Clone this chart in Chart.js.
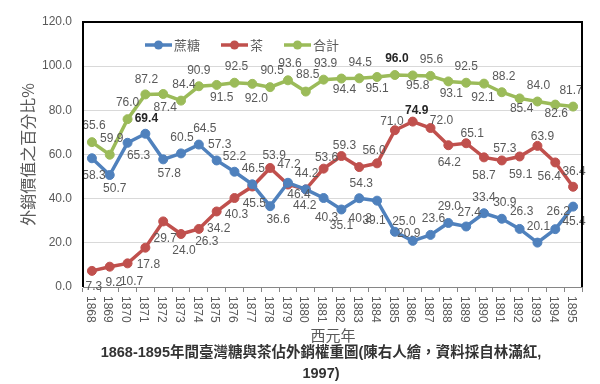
<!DOCTYPE html>
<html>
<head>
<meta charset="utf-8">
<script src="https://cdn.jsdelivr.net/npm/chart.js@4.4.1/dist/chart.umd.min.js"></script>
<style>
  html, body { margin: 0; padding: 0; background: #ffffff; }
  #chart { display: block; }
</style>
</head>
<body>
<canvas id="chart" width="600" height="384"></canvas>
<script>
// ===== Data =====
const years = [
  '1868', '1869', '1870', '1871', '1872', '1873', '1874', '1875', '1876', '1877',
  '1878', '1879', '1880', '1881', '1882', '1883', '1884', '1885', '1886', '1887',
  '1888', '1889', '1890', '1891', '1892', '1893', '1894', '1895',
];
const sugarShare = [
  58.3, 50.7, 65.3, 69.4, 57.8, 60.5, 64.5, 57.3, 52.2, 46.5,
  36.6, 47.2, 44.2, 40.3, 35.1, 40.2, 39.1, 25.0, 20.9, 23.6,
  29.0, 27.4, 33.4, 30.9, 26.3, 20.1, 26.2, 36.4,
];
const teaShare = [
  7.3, 9.2, 10.7, 17.8, 29.7, 24.0, 26.3, 34.2, 40.3, 45.5,
  53.9, 46.4, 44.2, 53.6, 59.3, 54.3, 56.0, 71.0, 74.9, 72.0,
  64.2, 65.1, 58.7, 57.3, 59.1, 63.9, 56.4, 45.4,
];
const totalShare = [
  65.6, 59.9, 76.0, 87.2, 87.4, 84.4, 90.9, 91.5, 92.5, 92.0,
  90.5, 93.6, 88.5, 93.9, 94.4, 94.5, 95.1, 96.0, 95.8, 95.6,
  93.1, 92.5, 92.1, 88.2, 85.4, 84.0, 82.6, 81.7,
];
const yTickValues = [0, 20, 40, 60, 80, 100, 120];

const seriesNames = ['蔗糖', '茶', '合計'];
const yAxisTitle = '外銷價值之百分比%';
const xAxisTitle = '西元年';
const captionLines = ['1868-1895年間臺灣糖與茶佔外銷權重圖(陳右人繪，資料採自林滿紅,', '1997)'];

// ===== Label placement (pixel offsets from each point) =====
const sugarLabelOffsets = [
  [2, 17], [5, 14], [11, 13], [1, -15], [6, 14], [1, -16], [6, -16], [3, -16], [0, -15], [1, -16],
  [8, 14], [1, -18], [-1, 16], [3, 20], [0, 16], [1, 20], [-3, 20], [9, -10], [-4, -7], [3, -16],
  [1, -16], [3, -14], [0, -16], [3, -16], [2, -17], [1, -16], [3, -17], [1, -35],
];
const teaLabelOffsets = [
  [2, 16], [4, 16], [4, 18], [3, 17], [2, 17], [3, 17], [8, 13], [2, 17], [2, 17], [2, 17],
  [4, -12], [11, 10], [1, -16], [3, -11], [3, -10], [2, 17], [-3, -13], [-3, -9], [4, -11], [11, -7],
  [1, 17], [6, -10], [0, 18], [3, -12], [1, 18], [5, -9], [-6, 14], [1, 35],
];
const totalLabelOffsets = [
  [2, -16], [2, -16], [0, -16], [1, -15], [2, 14], [3, -16], [0, -16], [5, 13], [2, -16], [4, 15],
  [2, -16], [2, -17], [2, -17], [2, -16], [3, 11], [1, -16], [0, 12], [2, -16], [5, 10], [1, -16],
  [3, 12], [0, -16], [-1, 14], [2, -16], [2, 10], [1, -16], [1, 9], [-2, -16],
];

const LATIN_FONT = '"Liberation Sans", Arial, "Noto Sans CJK TC", sans-serif';
const CJK_FONT = '"Noto Sans CJK TC", "Noto Sans", sans-serif';
const TEXT_GREY = '#595959';

// ===== Plugins =====
const pointLabelsPlugin = {
  id: 'pointLabels',
  afterDatasetsDraw(chart) {
    const { ctx } = chart;
    ctx.save();
    ctx.textAlign = 'center';
    ctx.textBaseline = 'middle';
    chart.data.datasets.forEach((dataset, datasetIndex) => {
      const meta = chart.getDatasetMeta(datasetIndex);
      const maxValue = Math.max(...dataset.data);
      meta.data.forEach((point, index) => {
        const value = dataset.data[index];
        const [dx, dy] = dataset.labelOffsets[index];
        const isMax = value === maxValue;
        ctx.font = (isMax ? 'bold ' : '') + '12px ' + LATIN_FONT;
        ctx.fillStyle = isMax ? '#262626' : TEXT_GREY;
        ctx.fillText(value.toFixed(1), point.x + dx, point.y + dy);
      });
    });
    ctx.restore();
  },
};

const frameAndTextPlugin = {
  id: 'frameAndText',
  afterDraw(chart) {
    const { ctx, chartArea } = chart;
    const xScale = chart.scales.x;

    // plot frame (top, left, right)
    ctx.save();
    ctx.strokeStyle = '#000000';
    ctx.lineWidth = 2;
    ctx.beginPath();
    ctx.moveTo(chartArea.left, chartArea.bottom);
    ctx.lineTo(chartArea.left, chartArea.top);
    ctx.lineTo(chartArea.right, chartArea.top);
    ctx.lineTo(chartArea.right, chartArea.bottom);
    ctx.stroke();
    ctx.restore();

    // x tick labels, rotated clockwise
    ctx.save();
    ctx.fillStyle = TEXT_GREY;
    ctx.font = '12px ' + LATIN_FONT;
    ctx.textAlign = 'left';
    ctx.textBaseline = 'middle';
    years.forEach((year, index) => {
      const x = xScale.getPixelForValue(index);
      ctx.save();
      ctx.translate(x - 2, chartArea.bottom + 9);
      ctx.rotate(Math.PI / 2);
      ctx.fillText(year, 0, 0);
      ctx.restore();
    });
    ctx.restore();

    // axis titles
    ctx.save();
    ctx.fillStyle = TEXT_GREY;
    ctx.textAlign = 'center';
    ctx.textBaseline = 'middle';
    ctx.font = '15px ' + CJK_FONT;
    ctx.fillText(xAxisTitle, 333, 335);
    ctx.translate(28, (chartArea.top + chartArea.bottom) / 2);
    ctx.rotate(-Math.PI / 2);
    ctx.font = '16px ' + CJK_FONT;
    ctx.fillText(yAxisTitle, 0, 0);
    ctx.restore();

    // legend inside the plot
    ctx.save();
    ctx.font = '13px ' + CJK_FONT;
    ctx.textBaseline = 'middle';
    ctx.textAlign = 'left';
    let legendX = 145;
    const legendY = 45;
    chart.data.datasets.forEach((dataset) => {
      ctx.strokeStyle = dataset.borderColor;
      ctx.fillStyle = dataset.borderColor;
      ctx.lineWidth = 3.5;
      ctx.beginPath();
      ctx.moveTo(legendX, legendY);
      ctx.lineTo(legendX + 27, legendY);
      ctx.stroke();
      ctx.beginPath();
      ctx.arc(legendX + 13.5, legendY, 4.5, 0, Math.PI * 2);
      ctx.fill();
      ctx.fillStyle = TEXT_GREY;
      ctx.fillText(dataset.label, legendX + 29, legendY);
      legendX += 29 + ctx.measureText(dataset.label).width + 21;
    });
    ctx.restore();

    // caption below the chart
    ctx.save();
    ctx.fillStyle = '#333333';
    ctx.font = 'bold 14.5px ' + LATIN_FONT.replace('"Noto Sans CJK TC", ', '"Noto Sans CJK TC", ');
    ctx.textAlign = 'center';
    ctx.textBaseline = 'middle';
    captionLines.forEach((line, index) => {
      ctx.fillText(line, 321, 353 + index * 21);
    });
    ctx.restore();
  },
};

// ===== Chart =====
function buildDataset(label, values, color, offsets) {
  return {
    label,
    data: values,
    borderColor: color,
    backgroundColor: color,
    borderWidth: 3.5,
    pointRadius: 4.5,
    pointBackgroundColor: color,
    pointBorderColor: color,
    pointBorderWidth: 1,
    tension: 0,
    labelOffsets: offsets,
  };
}

new Chart(document.getElementById('chart'), {
  type: 'line',
  data: {
    labels: years,
    datasets: [
      buildDataset(seriesNames[0], sugarShare, '#4F81BD', sugarLabelOffsets),
      buildDataset(seriesNames[1], teaShare, '#C0504D', teaLabelOffsets),
      buildDataset(seriesNames[2], totalShare, '#9BBB59', totalLabelOffsets),
    ],
  },
  options: {
    responsive: false,
    animation: false,
    devicePixelRatio: 1,
    layout: {
      padding: { left: 0, right: 18, top: 22, bottom: 0 },
    },
    plugins: {
      legend: { display: false },
      title: { display: false },
      tooltip: { enabled: false },
    },
    scales: {
      x: {
        type: 'category',
        offset: true,
        grid: {
          offset: true,
          drawOnChartArea: false,
          drawTicks: true,
          tickLength: 5,
          color: '#868686',
        },
        border: { color: '#868686', width: 1 },
        ticks: { display: false },
        afterFit(scale) {
          scale.height = 97;
        },
      },
      y: {
        min: 0,
        max: 120,
        afterBuildTicks(scale) {
          scale.ticks = yTickValues.map((value) => ({ value }));
        },
        ticks: {
          padding: 11,
          color: TEXT_GREY,
          font: { family: LATIN_FONT, size: 12 },
          callback: (value) => Number(value).toFixed(1),
        },
        grid: {
          color: '#d9d9d9',
          drawTicks: false,
        },
        border: { display: false },
        afterFit(scale) {
          scale.width = 83;
        },
      },
    },
  },
  plugins: [pointLabelsPlugin, frameAndTextPlugin],
});
</script>
</body>
</html>
